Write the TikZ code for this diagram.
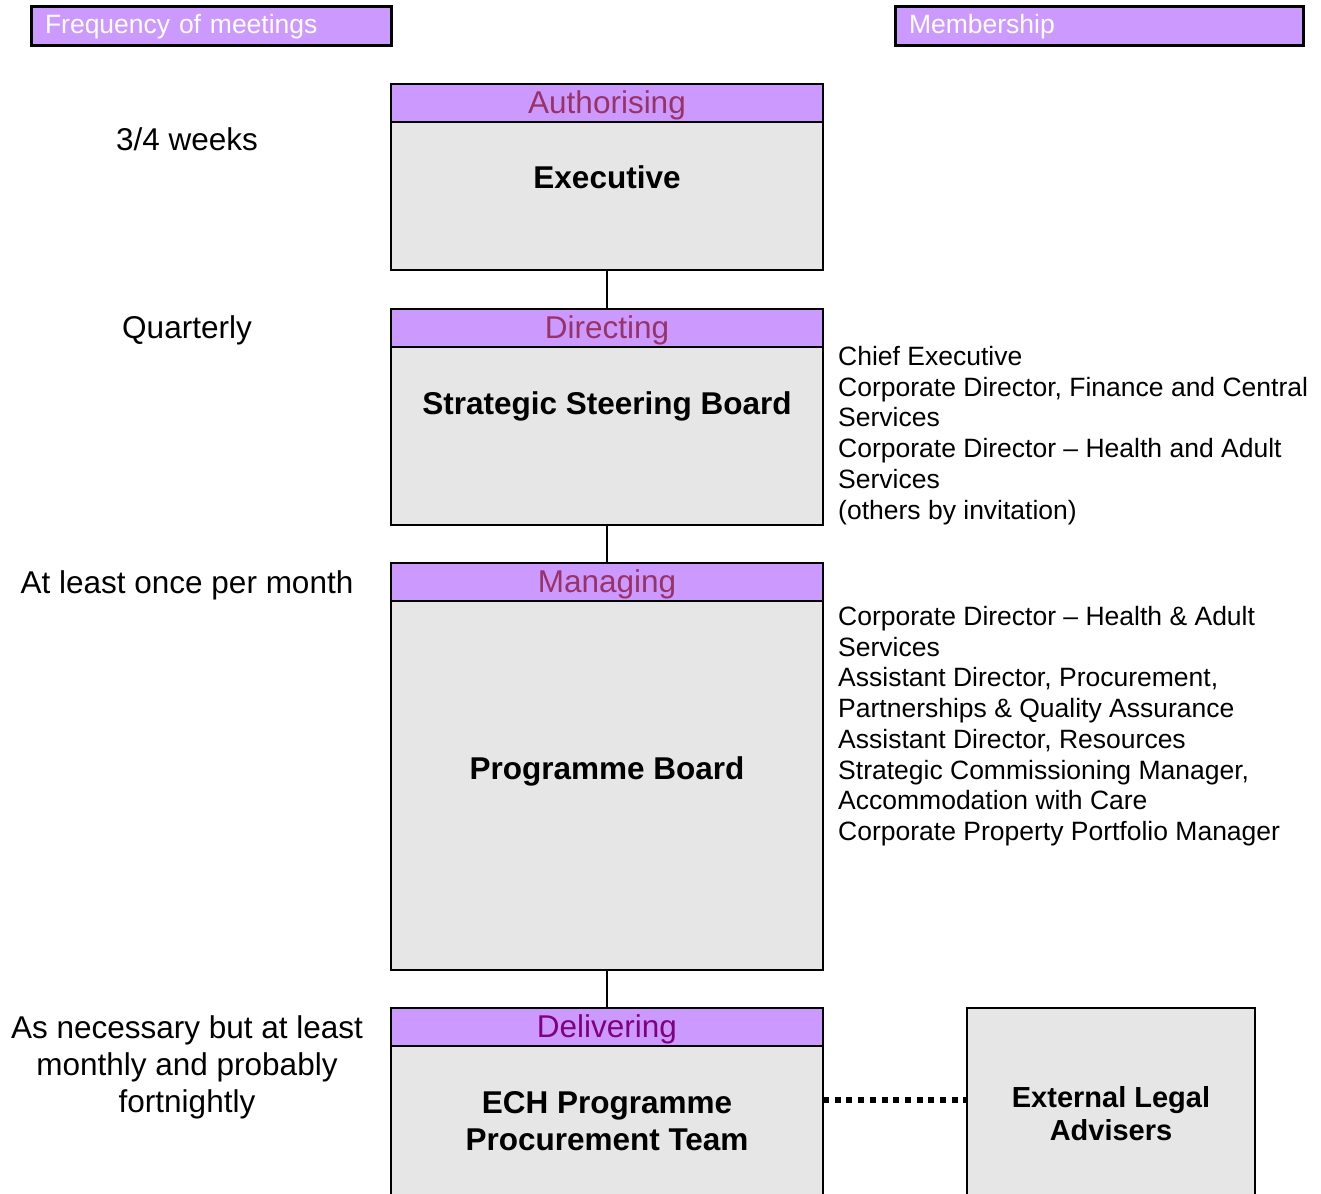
\documentclass[tikz,border=0pt]{standalone}
\usepackage{fontspec}
\setmainfont{Liberation Sans}
\definecolor{hdr}{HTML}{CC99FF}
\definecolor{bodygrey}{HTML}{E6E6E6}
\definecolor{hdrtxtA}{HTML}{993366}
\definecolor{hdrtxtD}{HTML}{800080}
\begin{document}
\begin{tikzpicture}[x=1pt,y=-1pt,
  titlebox/.style={draw=black, line width=3pt, fill=hdr, minimum height=39pt, inner xsep=14pt, inner ysep=0pt, outer sep=0pt,
    anchor=north west, align=left, text=white, font=\fontsize{26.5}{30}\selectfont, text height=19pt, text depth=5pt},
  stagehead/.style={draw=black, line width=2pt, fill=hdr, minimum width=432pt, minimum height=38pt, inner sep=0pt, outer sep=0pt,
    anchor=north, text=hdrtxtA, font=\fontsize{31.5}{36}\selectfont, text height=23pt, text depth=2pt},
  stagebody/.style={draw=black, line width=2pt, fill=bodygrey, minimum width=432pt, inner sep=0pt, outer sep=0pt, anchor=north},
  bodytitle/.style={anchor=base, inner sep=0pt, align=center, font=\bfseries\fontsize{31.5}{37}\selectfont},
  freqtext/.style={anchor=base, inner sep=0pt, align=center, font=\fontsize{31.5}{37}\selectfont},
  memberlist/.style={anchor=base west, inner sep=0pt, align=left, font=\fontsize{26.5}{30.7}\selectfont},
  link/.style={draw=black, line width=1.5pt},
  dotlink/.style={draw=black, line width=6pt, dash pattern=on 6pt off 5.7pt}
]
\useasboundingbox (0,0) rectangle (1321,1193);
\clip (0,0) rectangle (1321,1193);

% column headings
\node[titlebox, text width=332pt] (freqh) at (31,7) {Frequency of meetings};
\node[titlebox, text width=380pt] (memh) at (895,7) {Membership};

% Authorising / Executive
\node[stagehead] (exh) at (607,84) {Authorising};
\node[stagebody, minimum height=148pt] (exb) at (exh.south) {};
\node[bodytitle] (exl) at (607,189) {Executive};

% Directing / Strategic Steering Board
\node[stagehead] (ssh) at (607,309) {Directing};
\node[stagebody, minimum height=178pt] (ssb) at (ssh.south) {};
\node[bodytitle] (ssl) at (607,414) {Strategic Steering Board};

% Managing / Programme Board
\node[stagehead] (pbh) at (607,563) {Managing};
\node[stagebody, minimum height=369pt] (pbb) at (pbh.south) {};
\node[bodytitle] (pbl) at (607,779) {Programme Board};

% Delivering / ECH Programme Procurement Team
\node[stagehead, text=hdrtxtD] (dlh) at (607,1008) {Delivering};
\node[stagebody, minimum height=194pt] (dlb) at (dlh.south) {};
\node[bodytitle] (dll) at (607,1150) {ECH Programme\\Procurement Team};

% External Legal Advisers
\node[stagebody, minimum width=288pt, minimum height=232pt] (ext) at (1111,1008) {};
\node[bodytitle, font=\bfseries\fontsize{29}{33}\selectfont] (extl) at (1111,1140) {External Legal\\Advisers};

% connectors
\draw[link] (exb.south) -- (ssh.north);
\draw[link] (ssb.south) -- (pbh.north);
\draw[link] (pbb.south) -- (dlh.north);
\draw[dotlink] ([yshift=43pt]dlb.east) -- ([yshift=24pt]ext.west);

% frequency texts
\node[freqtext] (f1) at (187,151) {3/4 weeks};
\node[freqtext] (f2) at (187,338) {Quarterly};
\node[freqtext] (f3) at (187,593) {At least once per month};
\node[freqtext] (f4) at (187,1112) {As necessary but at least\\monthly and probably\\fortnightly};

% membership texts
\node[memberlist] (m1) at (838,519) {Chief Executive\\Corporate Director, Finance and Central\\Services\\Corporate Director -- Health and Adult\\Services\\(others by invitation)};
\node[memberlist] (m2) at (838,840.4) {Corporate Director -- Health \& Adult\\Services\\Assistant Director, Procurement,\\Partnerships \& Quality Assurance\\Assistant Director, Resources\\Strategic Commissioning Manager,\\Accommodation with Care\\Corporate Property Portfolio Manager};
\end{tikzpicture}
\end{document}
